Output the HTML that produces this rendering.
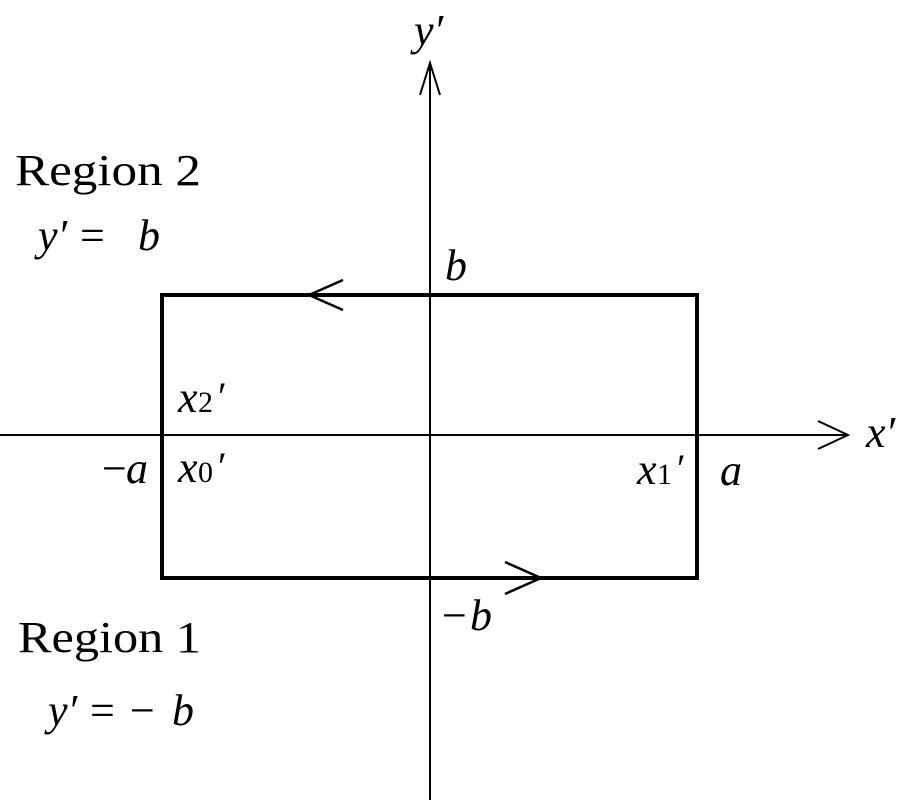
<!DOCTYPE html>
<html><head><meta charset="utf-8"><style>html,body{margin:0;padding:0;background:#fff}svg{display:block}</style></head>
<body>
<svg width="900" height="800" viewBox="0 0 900 800" xmlns="http://www.w3.org/2000/svg" font-family="Liberation Serif, serif" fill="#000">
<g stroke="#000" fill="none">
<line x1="430" y1="62" x2="430" y2="800" stroke-width="2"/>
<line x1="0" y1="435" x2="848" y2="435" stroke-width="2"/>
<polyline points="420,95 430,63 440,95" stroke-width="2"/>
<polyline points="818,421 848,435 818,449" stroke-width="2"/>
<rect x="162" y="295" width="535" height="283" stroke-width="4"/>
<polyline points="343,280 309,295 343,310" stroke-width="2.5"/>
<polyline points="505,562 541,578 505,594" stroke-width="2.5"/>
</g>
<g font-size="44">
<text x="15" y="185" textLength="186" lengthAdjust="spacingAndGlyphs">Region 2</text>
<text x="18" y="652" textLength="183" lengthAdjust="spacingAndGlyphs">Region 1</text>
<text x="38" y="250" font-style="italic">y′</text><text x="80" y="250">=</text><text x="138" y="250" font-style="italic">b</text>
<text x="48" y="725" font-style="italic">y′</text><text x="90" y="725">=</text><text x="130" y="725">−</text><text x="172" y="725" font-style="italic">b</text>
<text x="414" y="45" font-style="italic">y′</text>
<text x="445" y="280" font-style="italic">b</text>
<text x="442" y="630">−</text><text x="470" y="630" font-style="italic">b</text>
<text x="102" y="483">−</text><text x="126" y="483" font-style="italic">a</text>
<text x="720" y="485" font-style="italic">a</text>
<text x="866" y="447" font-style="italic">x′</text>
<text x="178" y="412" font-style="italic">x</text><text x="198" y="412" font-size="30">2</text><text x="218" y="410" font-size="40">′</text>
<text x="178" y="482" font-style="italic">x</text><text x="198" y="482" font-size="30">0</text><text x="218" y="480" font-size="40">′</text>
<text x="637" y="484" font-style="italic">x</text><text x="657" y="484" font-size="30">1</text><text x="677" y="482" font-size="40">′</text>
</g>
</svg>
</body></html>
